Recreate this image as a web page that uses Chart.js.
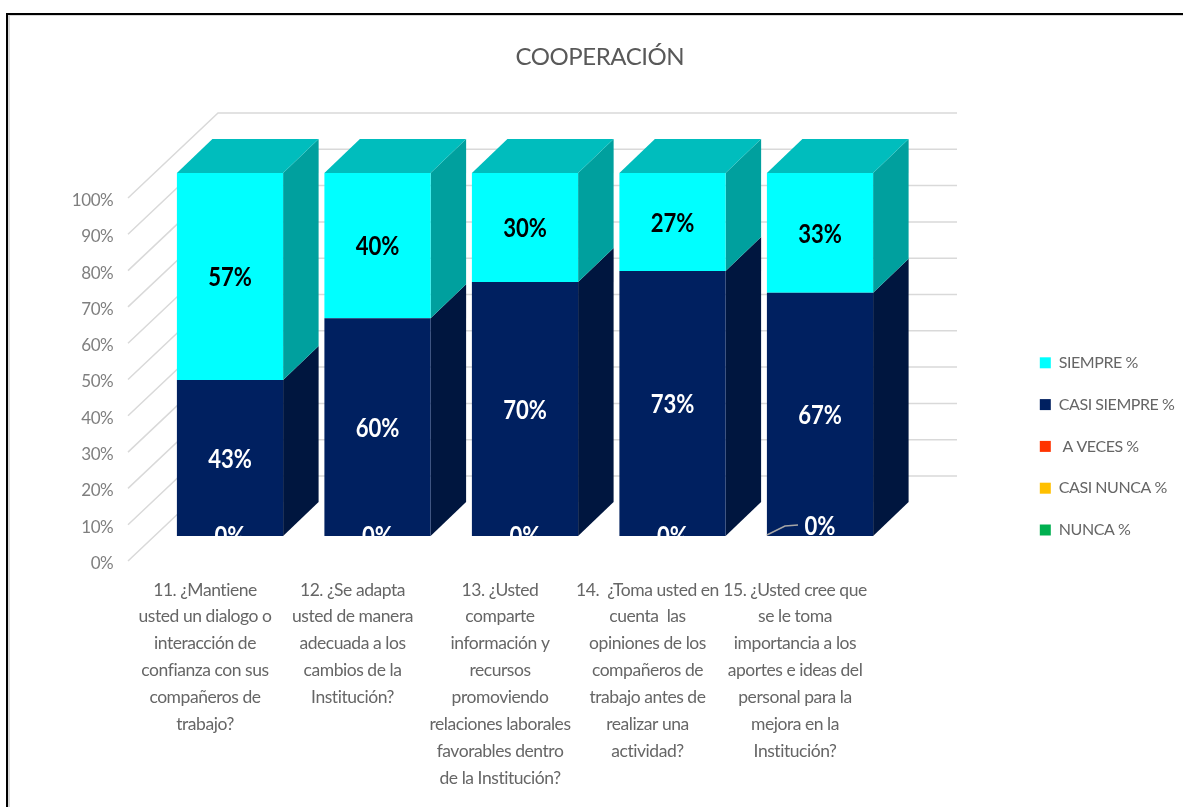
<!DOCTYPE html>
<html>
<head>
<meta charset="utf-8">
<title>Cooperación</title>
<script src="https://cdn.jsdelivr.net/npm/chart.js@4"></script>
<style>
    html, body { margin: 0; height: 100%; background: #fff; overflow: hidden; }
    #frame {
        position: absolute; left: 6px; top: 13px; width: 1300px; height: 900px;
        border-left: 2px solid #000; border-top: 2px solid #000;
        box-shadow: inset 2px 1px 0 #d8d8d8;
    }
    #cooperacionChart { position: absolute; left: 0; top: 0; }
</style>
</head>
<body>
<div id="frame"></div>
<canvas id="cooperacionChart" width="1183" height="807"></canvas>
<script>
const questions = [
    ["11. ¿Mantiene", "usted un dialogo o", "interacción de", "confianza con sus", "compañeros de", "trabajo?"],
    ["12. ¿Se adapta", "usted de manera", "adecuada a los", "cambios de la", "Institución?"],
    ["13. ¿Usted", "comparte", "información y", "recursos", "promoviendo", "relaciones laborales", "favorables dentro", "de la Institución?"],
    ["14.  ¿Toma usted en", "cuenta  las", "opiniones de los", "compañeros de", "trabajo antes de", "realizar una", "actividad?"],
    ["15. ¿Usted cree que", "se le toma", "importancia a los", "aportes e ideas del", "personal para la", "mejora en la", "Institución?"]
];

const nunca = [0, 0, 0, 0, 0];
const casiNunca = [0, 0, 0, 0, 0];
const aVeces = [0, 0, 0, 0, 0];
const casiSiempre = [43, 60, 70, 73, 67];
const siempre = [57, 40, 30, 27, 33];

const fontName = "Lato, sans-serif";

// depth of the extruded bars and of the back wall
const barDepth = { x: 35.5, y: 34 };
const wall = { left: 218, right: 957, rise: 60, frontX: 128, drop: 25 };

const shades = {
    "#00ffff": { side: "#00a09e", top: "#00bdbd" },
    "#002060": { side: "#00163f", top: "#00163f" }
};

function polygon(ctx, points, fill) {
    ctx.fillStyle = fill;
    ctx.beginPath();
    points.forEach(([x, y], i) => (i ? ctx.lineTo(x, y) : ctx.moveTo(x, y)));
    ctx.closePath();
    ctx.fill();
}

const wallPlugin = {
    id: "wall",
    beforeDraw(chart) {
        chart.ctx.letterSpacing = "-0.45px";
    },
    beforeDatasetsDraw(chart) {
        const { ctx, scales } = chart;
        ctx.save();
        ctx.strokeStyle = "#d9d9d9";
        ctx.lineWidth = 1.5;
        scales.y.ticks.forEach((tick) => {
            const y = scales.y.getPixelForValue(tick.value);
            ctx.beginPath();
            ctx.moveTo(wall.frontX, y + wall.drop);
            ctx.lineTo(wall.left, y - wall.rise);
            ctx.lineTo(wall.right, y - wall.rise);
            ctx.stroke();
        });

        // side and top faces of every visible segment
        chart.data.datasets.forEach((dataset, d) => {
            const shade = shades[dataset.backgroundColor];
            if (!shade) return;
            chart.getDatasetMeta(d).data.forEach((bar, i) => {
                if (!dataset.data[i]) return;
                const right = bar.x + bar.width / 2;
                const left = bar.x - bar.width / 2;
                polygon(ctx, [
                    [right, bar.y],
                    [right + barDepth.x, bar.y - barDepth.y],
                    [right + barDepth.x, bar.base - barDepth.y],
                    [right, bar.base]
                ], shade.side);
                if (d === chart.data.datasets.length - 1) {
                    polygon(ctx, [
                        [left, bar.y],
                        [left + barDepth.x, bar.y - barDepth.y],
                        [right + barDepth.x, bar.y - barDepth.y],
                        [right, bar.y]
                    ], shade.top);
                }
            });
        });
        ctx.restore();
    },
    afterDatasetsDraw(chart) {
        const { ctx } = chart;
        ctx.save();
        ctx.font = "bold 26px " + fontName;
        ctx.letterSpacing = "0px";
        ctx.textAlign = "center";
        ctx.textBaseline = "middle";
        chart.data.datasets.forEach((dataset, d) => {
            const isZeroSeries = dataset.label === "NUNCA %";
            chart.getDatasetMeta(d).data.forEach((bar, i) => {
                const value = dataset.data[i];
                if (!value && !isZeroSeries) return;
                ctx.fillStyle = dataset.backgroundColor === "#00ffff" ? "#000" : "#fff";
                let y = (bar.y + bar.base) / 2 + 1.5;
                if (!value) {
                    // the last zero label sits higher, tied to its bar with a leader
                    const last = i === dataset.data.length - 1;
                    y = last ? bar.y - 9 : bar.y + 1;
                    if (last) {
                        ctx.strokeStyle = "#a6a6a6";
                        ctx.lineWidth = 1.5;
                        ctx.beginPath();
                        ctx.moveTo(bar.x - bar.width / 2, bar.y - 1);
                        ctx.lineTo(bar.x - 35, bar.y - 10);
                        ctx.lineTo(bar.x - 22, bar.y - 11);
                        ctx.stroke();
                    }
                }
                // squeeze the figures sideways so they read as a condensed face
                ctx.save();
                ctx.translate(bar.x, y);
                ctx.scale(0.85, 1);
                ctx.fillText(value + "%", 0, 0);
                ctx.restore();
            });
        });
        ctx.restore();
    },
    afterLayout(chart) {
        // the legend floats low on the right, away from the plot
        const legend = chart.legend;
        legend.left = 1014;
        legend.right = 1183;
        legend.top = 329;
        legend.bottom = 640;

        // the title is centred a little right of the plot
        chart.titleBlock.left += 43;
        chart.titleBlock.right += 43;
    }
};

new Chart(document.getElementById("cooperacionChart"), {
    type: "bar",
    data: {
        labels: questions,
        datasets: [
            { label: "NUNCA %", data: nunca, backgroundColor: "#00b050" },
            { label: "CASI NUNCA %", data: casiNunca, backgroundColor: "#ffc000" },
            { label: " A VECES %", data: aVeces, backgroundColor: "#ff3300" },
            { label: "CASI SIEMPRE %", data: casiSiempre, backgroundColor: "#002060" },
            { label: "SIEMPRE %", data: siempre, backgroundColor: "#00ffff" }
        ]
    },
    options: {
        responsive: false,
        animation: false,
        barPercentage: 0.72,
        categoryPercentage: 1,
        layout: { padding: { left: 60, right: 129.25, top: 0, bottom: 0 } },
        plugins: {
            title: {
                display: true,
                text: "COOPERACIÓN",
                color: "#595959",
                font: { family: fontName, size: 24, weight: "normal", lineHeight: 1.2 },
                padding: { top: 42.6, bottom: 101.6 }
            },
            legend: {
                position: "right",
                align: "start",
                fullSize: false,
                maxWidth: 160,
                reverse: true,
                labels: {
                    boxWidth: 11,
                    boxHeight: 11,
                    padding: 25.8,
                    color: "#666",
                    font: { family: fontName, size: 16 }
                }
            },
            tooltip: { enabled: false }
        },
        scales: {
            x: {
                stacked: true,
                grid: { display: false, drawTicks: false },
                border: { display: false },
                afterFit(axis) { axis.height = 271; },
                ticks: {
                    autoSkip: false,
                    maxRotation: 0,
                    minRotation: 0,
                    padding: 40.5,
                    labelOffset: -25,
                    color: "#666",
                    font: { family: fontName, size: 17.5, lineHeight: 1.537 }
                }
            },
            y: {
                stacked: true,
                min: 0,
                max: 100,
                grid: { display: false, drawTicks: false },
                border: { display: false },
                afterFit(axis) { axis.width = 96.25; },
                ticks: {
                    stepSize: 10,
                    padding: 43,
                    labelOffset: 27.5,
                    color: "#7f7f7f",
                    font: { family: fontName, size: 17 },
                    callback: (value) => value + "%"
                }
            }
        }
    },
    plugins: [wallPlugin]
});
</script>
</body>
</html>
